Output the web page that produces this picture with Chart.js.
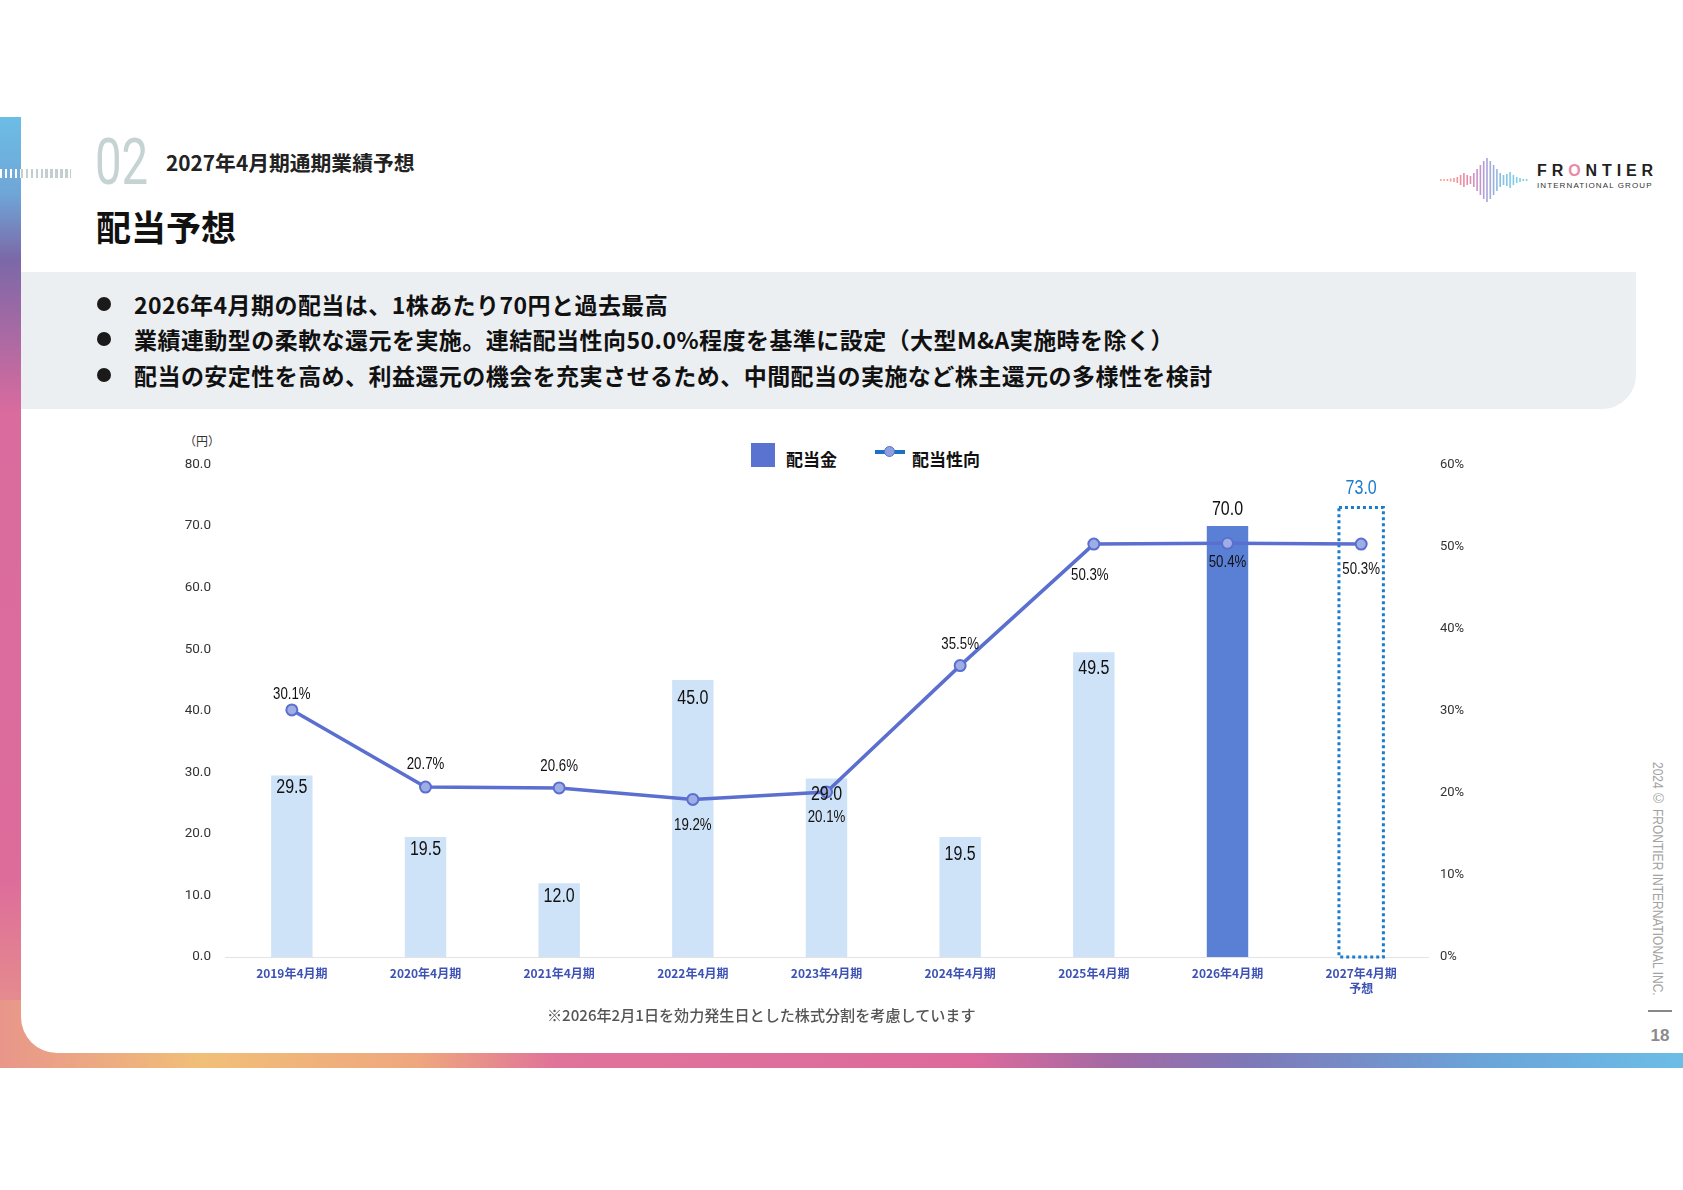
<!DOCTYPE html>
<html lang="ja">
<head>
<meta charset="utf-8">
<title>配当予想</title>
<script src="https://cdn.jsdelivr.net/npm/chart.js@4.4.1/dist/chart.umd.min.js"></script>
<style>
  html, body { margin: 0; padding: 0; }
  body {
    width: 1683px; height: 1190px; position: relative; overflow: hidden;
    background: #fff; color: #111;
    font-family: "Noto Sans CJK JP", "Noto Sans", sans-serif;
  }
  .abs { position: absolute; }
  #leftBar {
    left: 0; top: 117px; width: 60px; height: 951px;
    background: linear-gradient(to bottom, #6cbde6 0%, #6fa6d8 8%, #7b68a8 15%, #d96b9e 31%, #dd6c9b 80%, #e99c86 100%);
  }
  #bottomBar {
    left: 0; top: 1000px; width: 1683px; height: 68px;
    background: linear-gradient(to right, #e8968a 0%, #f1bf78 12%, #eea67e 25%, #e0739a 33%, #dc6a9c 58%, #a46aa4 66%, #7f78b8 74%, #6ba4d8 88%, #6cbde6 100%);
  }
  #panel {
    left: 21px; top: 117px; width: 1662px; height: 936px;
    background: #fff; border-bottom-left-radius: 36px;
  }
  #ticksGray {
    left: 21px; top: 169px; width: 50px; height: 9px;
    background: repeating-linear-gradient(to right, #c3cfcf 0 2.4px, transparent 2.4px 4.9px);
  }
  #ticksWhite {
    left: 0; top: 169px; width: 21px; height: 9px;
    background: repeating-linear-gradient(to right, #fff 0 2.4px, transparent 2.4px 4.9px);
  }
  #secNo {
    left: 95px; top: 125px; font-family: Roboto, sans-serif; font-weight: 400;
    font-size: 64px; line-height: 76px; color: #c5d3d3;
    transform: scaleX(0.74); transform-origin: left top;
  }
  #secTitle { left: 166px; top: 148px; font-size: 20.8px; line-height: 28px; font-weight: 700; color: #222; }
  #pageTitle { left: 96px; top: 203px; font-size: 35px; line-height: 46px; font-weight: 700; color: #111; }
  #grayBox {
    left: 21px; top: 272px; width: 1615px; height: 137px;
    background: #eceff1; border-bottom-right-radius: 34px;
  }
  .bullet { left: 134px; font-size: 23px; line-height: 36px; font-weight: 700; white-space: nowrap; color: #111; letter-spacing: 0.45px; }
  .dot { left: 97px; width: 14px; height: 14px; border-radius: 50%; background: #1a1a1a; }
  #unit { left: 184px; top: 432px; font-size: 12px; line-height: 18px; color: #333; }
  #legend { left: 751px; top: 443px; height: 26px; font-size: 17px; font-weight: 700; color: #111; }
  .legSq { left: 0; top: 0; width: 24px; height: 24px; background: #5a72d0; }
  .legTxt { top: 3px; line-height: 26px; white-space: nowrap; }
  .legLine { left: 124px; top: 7px; width: 30px; height: 4px; background: #1f6fc2; }
  .legDot { left: 133px; top: 3px; width: 9px; height: 9px; border-radius: 50%; background: #8e9fe0; border: 1.5px solid #5a6fcf; }
  #note { left: 547px; top: 1003px; font-size: 15.1px; line-height: 22px; font-weight: 500; color: #555; white-space: nowrap; }
  #copy {
    left: 1651px; top: 762px; writing-mode: vertical-rl; white-space: nowrap;
    font-family: "Liberation Sans", Arial, sans-serif; font-size: 15px; line-height: 15px; color: #a3a3a3;
    transform: scaleY(0.8); transform-origin: top;
  }
  #pageRule { left: 1648px; top: 1010px; width: 24px; height: 1.5px; background: #888; }
  #pageNo { left: 1648px; top: 1025px; width: 24px; text-align: center; font-family: "Liberation Sans", Arial, sans-serif; font-weight: 700; font-size: 17px; line-height: 22px; color: #8a8a8a; }
  #logoWave { left: 1438px; top: 157px; }
  #logoName { left: 1537px; top: 162px; font-family: "Liberation Sans", Arial, sans-serif; font-weight: 700; font-size: 16px; line-height: 18px; letter-spacing: 4.9px; color: #222; white-space: nowrap; }
  #logoName span { color: #e98aa6; }
  #logoSub { left: 1537px; top: 181px; font-family: "Liberation Sans", Arial, sans-serif; font-size: 8px; line-height: 10px; letter-spacing: 1.1px; color: #333; white-space: nowrap; }
  #chartBox { left: 150px; top: 433px; }
</style>
</head>
<body>
<div id="leftBar" class="abs"></div>
<div id="bottomBar" class="abs"></div>
<div id="panel" class="abs"></div>
<div id="ticksWhite" class="abs"></div>
<div id="ticksGray" class="abs"></div>

<div id="secNo" class="abs">02</div>
<div id="secTitle" class="abs">2027年4月期通期業績予想</div>
<div id="pageTitle" class="abs">配当予想</div>

<canvas id="logoWave" class="abs" width="90" height="46"></canvas>
<div id="logoName" class="abs">FR<span>O</span>NTIER</div>
<div id="logoSub" class="abs">INTERNATIONAL GROUP</div>

<div id="grayBox" class="abs"></div>
<div class="dot abs" style="top:297px"></div>
<div class="bullet abs" style="top:286px">2026年4月期の配当は、1株あたり70円と過去最高</div>
<div class="dot abs" style="top:332px"></div>
<div class="bullet abs" style="top:321px">業績連動型の柔軟な還元を実施。連結配当性向50.0%程度を基準に設定（大型M&amp;A実施時を除く）</div>
<div class="dot abs" style="top:368px"></div>
<div class="bullet abs" style="top:357px">配当の安定性を高め、利益還元の機会を充実させるため、中間配当の実施など株主還元の多様性を検討</div>

<div id="unit" class="abs">（円）</div>
<div id="legend" class="abs">
  <div class="legSq abs"></div>
  <div class="legTxt abs" style="left:35px">配当金</div>
  <div class="legLine abs"></div>
  <div class="legDot abs"></div>
  <div class="legTxt abs" style="left:161px">配当性向</div>
</div>

<canvas id="chartBox" class="abs" width="1350" height="575"></canvas>

<div id="note" class="abs">※2026年2月1日を効力発生日とした株式分割を考慮しています</div>
<div id="copy" class="abs">2024 © FRONTIER INTERNATIONAL INC.</div>
<div id="pageRule" class="abs"></div>
<div id="pageNo" class="abs">18</div>

<script>
// chart data
const categories = ["2019年4月期", "2020年4月期", "2021年4月期", "2022年4月期", "2023年4月期",
  "2024年4月期", "2025年4月期", "2026年4月期", ["2027年4月期", "予想"]];
const dividends = [29.5, 19.5, 12.0, 45.0, 29.0, 19.5, 49.5, 70.0, 73.0];
const payoutRatio = [30.1, 20.7, 20.6, 19.2, 20.1, 35.5, 50.3, 50.4, 50.3];
const yenTicks = { min: 0, max: 80, step: 10 };
const pctTicks = { min: 0, max: 60, step: 10 };

// styling per bar / label
const latestIndex = 7;
const forecastIndex = 8;
const barColors = dividends.map((v, i) =>
  i === latestIndex ? "#5a80d6" : i === forecastIndex ? "rgba(0,0,0,0)" : "#cfe3f8");
// label offset from bar top / point, px
const barLabelShift = [12, 13, 13, 19, 16, 18, 16, -17, -19];
const ratioLabelShift = [-16, -23, -22, 26, 25, -21, 31, 19, 25];

function narrowText(ctx, text, x, y, size, color, squeeze) {
  ctx.save();
  ctx.font = size + 'px "Liberation Sans", Arial, sans-serif';
  ctx.fillStyle = color;
  ctx.textAlign = "center";
  ctx.textBaseline = "middle";
  ctx.translate(x, y);
  ctx.scale(squeeze, 1);
  ctx.fillText(text, 0, 0);
  ctx.restore();
}

const valueLabels = {
  id: "valueLabels",
  afterDatasetDraw(chart, args) {
    if (args.index !== 0) return;
    // dotted outline of the forecast bar
    const el = chart.getDatasetMeta(0).data[forecastIndex];
    const ctx = chart.ctx;
    const hw = el.width / 2 + 1.5;
    ctx.save();
    ctx.strokeStyle = "#1b7ccc";
    ctx.lineWidth = 3;
    ctx.setLineDash([3, 3]);
    ctx.strokeRect(el.x - hw, el.y, hw * 2, el.base - el.y);
    ctx.restore();
  },
  afterDatasetsDraw(chart) {
    const ctx = chart.ctx;
    chart.getDatasetMeta(0).data.forEach((el, i) => {
      const color = i === forecastIndex ? "#1b7ccc" : "#111";
      narrowText(ctx, dividends[i].toFixed(1), el.x, el.y + barLabelShift[i], 20, color, 0.8);
    });
    chart.getDatasetMeta(1).data.forEach((pt, i) => {
      const dx = i === 6 ? -4 : 0;
      narrowText(ctx, payoutRatio[i].toFixed(1) + "%", pt.x + dx, pt.y + ratioLabelShift[i], 17, "#111", 0.78);
    });
  }
};

new Chart(document.getElementById("chartBox").getContext("2d"), {
  data: {
    labels: categories,
    datasets: [
      {
        type: "bar",
        label: "配当金",
        data: dividends,
        yAxisID: "y",
        backgroundColor: barColors,
        barPercentage: 0.31,
        categoryPercentage: 1,
        order: 1
      },
      {
        type: "line",
        label: "配当性向",
        data: payoutRatio,
        yAxisID: "y1",
        borderColor: "#5a6fcf",
        borderWidth: 3.5,
        pointRadius: 5.5,
        pointBackgroundColor: "#9eade4",
        pointBorderColor: "#5a6fcf",
        pointBorderWidth: 2,
        tension: 0,
        order: 0
      }
    ]
  },
  options: {
    responsive: false,
    animation: false,
    layout: { padding: { top: 31.5, left: 0, right: 0, bottom: 0 } },
    plugins: { legend: { display: false }, tooltip: { enabled: false } },
    scales: {
      x: {
        grid: { display: false, drawTicks: false },
        border: { display: true, color: "#e3e3e3", width: 1 },
        ticks: {
          color: "#3d52b5",
          padding: 8.5,
          maxRotation: 0,
          autoSkip: false,
          font: { family: '"Noto Sans CJK JP"', size: 12, weight: "bold", lineHeight: 1.25 }
        },
        afterFit(s) { s.height = 51; }
      },
      y: {
        position: "left",
        min: yenTicks.min,
        max: yenTicks.max,
        grid: { display: false, drawTicks: false },
        border: { display: false },
        ticks: {
          stepSize: yenTicks.step,
          padding: 14,
          color: "#333",
          font: { family: "Roboto", size: 13.5 },
          callback: (v) => v.toFixed(1)
        },
        afterFit(s) { s.width = 75; }
      },
      y1: {
        position: "right",
        min: pctTicks.min,
        max: pctTicks.max,
        grid: { display: false, drawTicks: false },
        border: { display: false },
        ticks: {
          stepSize: pctTicks.step,
          padding: 12,
          color: "#333",
          font: { family: "Roboto", size: 13 },
          callback: (v) => v + "%"
        },
        afterFit(s) { s.width = 72; }
      }
    }
  },
  plugins: [valueLabels]
});

// logo waveform (decorative)
(function () {
  const c = document.getElementById("logoWave").getContext("2d");
  const hs = [2, 2, 2, 3, 4, 6, 10, 14, 10, 8, 14, 22, 30, 38, 44, 38, 30, 22, 14, 10, 12, 16, 10, 6, 4, 2, 2];
  const grad = c.createLinearGradient(0, 0, 90, 0);
  grad.addColorStop(0, "#f7b08a");
  grad.addColorStop(0.3, "#ee86a2");
  grad.addColorStop(0.5, "#b69ad8");
  grad.addColorStop(0.75, "#7cc8e6");
  grad.addColorStop(1, "#7fd0ec");
  c.fillStyle = grad;
  hs.forEach((h, i) => {
    c.fillRect(2 + i * 3.3, 23 - h / 2, 1.6, h);
  });
})();
</script>
</body>
</html>
